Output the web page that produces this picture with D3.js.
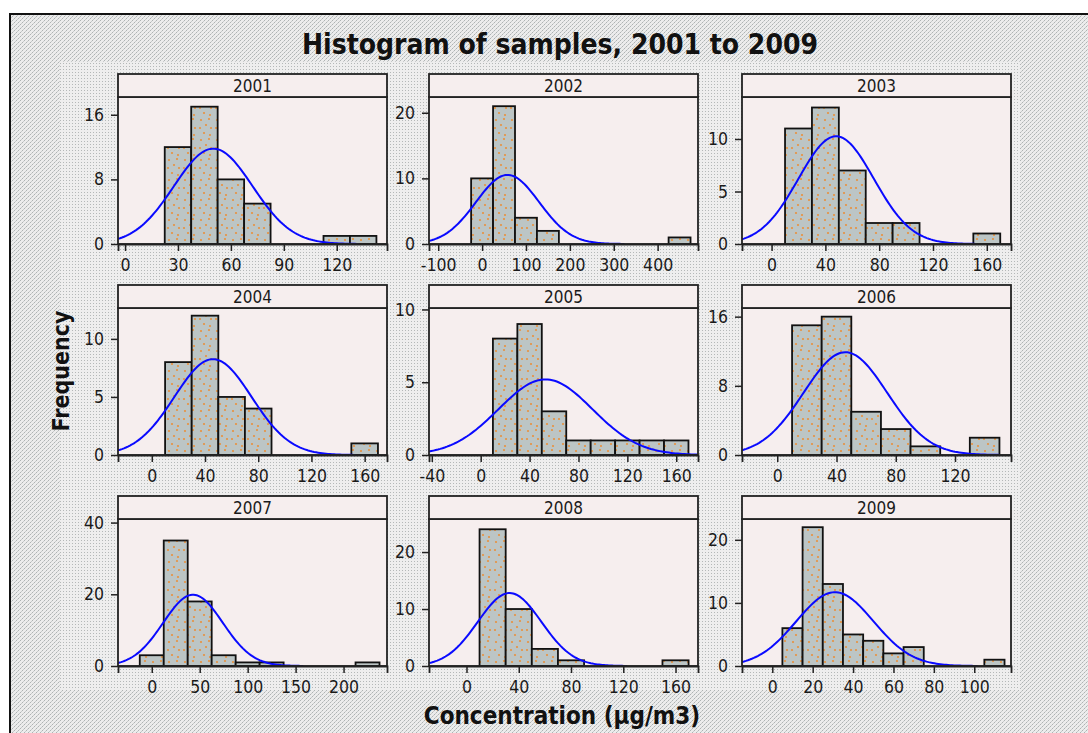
<!DOCTYPE html>
<html>
<head>
<meta charset="utf-8">
<script src="https://cdn.jsdelivr.net/npm/d3@7"></script>
<style>
  body { margin: 0; background: #fff; }
  svg { display: block; }
</style>
</head>
<body>
<div id="chart"></div>
<script>
// histogram data, one entry per year
var years = ["2001", "2002", "2003", "2004", "2005", "2006", "2007", "2008", "2009"];
var binFirst = [30, 0, 20, 20, 20, 20, 0, 20, 10];   // centre of first bin
var binWidth = [15, 50, 20, 20, 20, 20, 25, 20, 10];
var counts = [
  [12, 17, 8, 5, 0, 0, 1, 1],
  [10, 21, 4, 2, 0, 0, 0, 0, 0, 1],
  [11, 13, 7, 2, 2, 0, 0, 1],
  [8, 12, 5, 4, 0, 0, 0, 1],
  [8, 9, 3, 1, 1, 1, 1, 1],
  [15, 16, 5, 3, 1, 0, 2],
  [3, 35, 18, 3, 1, 1, 0, 0, 0, 1],
  [24, 10, 3, 1, 0, 0, 0, 1],
  [6, 22, 13, 5, 4, 2, 3, 0, 0, 0, 1]
];
// normal fit parameters
var fitMean = [50, 58, 48, 46, 53, 46, 43, 33, 31];
var fitSd = [22.3, 72, 28, 29, 38.4, 28.2, 31.1, 24.3, 19.1];

// axis settings
var xDomains = [[-4, 148.5], [-121, 492], [-22, 178], [-25.4, 176.8], [-42.3, 177.8],
                [-23.8, 157.8], [-35.2, 245.3], [-28.7, 177.2], [-15, 118.2]];
var xTicks = [
  [0, 30, 60, 90, 120],
  [-100, 0, 100, 200, 300, 400],
  [0, 40, 80, 120, 160],
  [0, 40, 80, 120, 160],
  [-40, 0, 40, 80, 120, 160],
  [0, 40, 80, 120],
  [0, 50, 100, 150, 200],
  [0, 40, 80, 120, 160],
  [0, 20, 40, 60, 80, 100]
];
var yMax = [18.2, 22.4, 14, 12.66, 10.1, 17, 41, 25.8, 23.3];
var yTicks = [[0, 8, 16], [0, 10, 20], [0, 5, 10], [0, 5, 10], [0, 5, 10],
              [0, 8, 16], [0, 20, 40], [0, 10, 20], [0, 10, 20]];

var W = 1088, H = 733;
var font = "'DejaVu Sans Condensed', 'DejaVu Sans', sans-serif";

var svg = d3.select("#chart").append("svg")
  .attr("width", W).attr("height", H);

var defs = svg.append("defs");

// dotted background texture
var bg = defs.append("pattern").attr("id", "bgdots")
  .attr("width", 4).attr("height", 4).attr("patternUnits", "userSpaceOnUse");
bg.append("rect").attr("width", 4).attr("height", 4).attr("fill", "#ececec");
bg.append("rect").attr("x", 0).attr("y", 0).attr("width", 1).attr("height", 1).attr("fill", "#aeb3b3");
bg.append("rect").attr("x", 2).attr("y", 2).attr("width", 1).attr("height", 1).attr("fill", "#aeb3b3");
bg.append("rect").attr("x", 3).attr("y", 1).attr("width", 1).attr("height", 1).attr("fill", "#c8cbcb");
bg.append("rect").attr("x", 1).attr("y", 3).attr("width", 1).attr("height", 1).attr("fill", "#c8cbcb");

var bg2 = defs.append("pattern").attr("id", "bgdots2")
  .attr("width", 3).attr("height", 3).attr("patternUnits", "userSpaceOnUse");
bg2.append("rect").attr("width", 3).attr("height", 3).attr("fill", "#eeeeee");
bg2.append("rect").attr("x", 0).attr("y", 0).attr("width", 1).attr("height", 1).attr("fill", "#b4b8b8");

// orange dots for the bars
var bd = defs.append("pattern").attr("id", "bardots")
  .attr("width", 16).attr("height", 20).attr("patternUnits", "userSpaceOnUse");
bd.append("rect").attr("width", 16).attr("height", 20).attr("fill", "#bcc5c5");
[[3, 3], [11, 2], [8, 8], [2, 11], [13, 11], [6, 16], [12, 18]].forEach(function(p) {
  bd.append("circle").attr("cx", p[0]).attr("cy", p[1]).attr("r", 1.1).attr("fill", "#e8913e");
});

svg.append("rect").attr("x", 10).attr("y", 14).attr("width", W - 10).attr("height", H - 14)
  .attr("fill", "url(#bgdots)");
svg.append("rect").attr("x", 60).attr("y", 62).attr("width", 960).attr("height", 628)
  .attr("fill", "url(#bgdots2)");
svg.append("path").attr("d", "M10," + H + "V14H" + W)
  .attr("fill", "none").attr("stroke", "#111").attr("stroke-width", 2);

// panel layout
var colX = [118, 429, 742], rowY = [74, 285, 496];
var pw = 269, stripH = 23, ph = 147;

years.forEach(function(yr, i) {
  var px = colX[i % 3], py = rowY[Math.floor(i / 3)];
  var g = svg.append("g").attr("transform", "translate(" + px + "," + (py + stripH) + ")");

  var x = d3.scaleLinear().domain(xDomains[i]).range([0, pw]);
  var y = d3.scaleLinear().domain([0, yMax[i]]).range([ph, 0]);

  g.append("rect").attr("width", pw).attr("height", ph).attr("fill", "#f6eeee");

  defs.append("clipPath").attr("id", "clip" + i)
    .append("rect").attr("width", pw).attr("height", ph);

  var bins = counts[i].map(function(c, k) {
    return { mid: binFirst[i] + k * binWidth[i], n: c };
  }).filter(function(d) { return d.n > 0; });

  g.selectAll("rect.bar").data(bins).enter().append("rect")
    .attr("class", "bar")
    .attr("x", function(d) { return x(d.mid - binWidth[i] / 2); })
    .attr("width", function(d) { return x(d.mid + binWidth[i] / 2) - x(d.mid - binWidth[i] / 2); })
    .attr("y", function(d) { return y(d.n); })
    .attr("height", function(d) { return ph - y(d.n); })
    .attr("fill", "url(#bardots)")
    .attr("stroke", "#111").attr("stroke-width", 1.8);

  // normal curve
  var total = d3.sum(counts[i]);
  var mu = fitMean[i], sd = fitSd[i];
  var lo = Math.max(xDomains[i][0], mu - 3.7 * sd), hi = Math.min(xDomains[i][1], mu + 3.7 * sd);
  var pts = d3.range(0, 121).map(function(k) {
    var xv = lo + (hi - lo) * k / 120;
    var z = (xv - mu) / sd;
    return [xv, total * binWidth[i] * Math.exp(-z * z / 2) / (sd * Math.sqrt(2 * Math.PI))];
  });
  g.append("path").datum(pts)
    .attr("clip-path", "url(#clip" + i + ")")
    .attr("fill", "none").attr("stroke", "#0a0aff").attr("stroke-width", 2)
    .attr("d", d3.line().x(function(d) { return x(d[0]); }).y(function(d) { return y(d[1]); }));

  // frame
  g.append("rect").attr("width", pw).attr("height", ph)
    .attr("fill", "none").attr("stroke", "#222").attr("stroke-width", 1.8);

  // axes
  var fmt = function(d) { return String(d); };
  var xa = g.append("g").attr("transform", "translate(0," + ph + ")")
    .call(d3.axisBottom(x).tickValues(xTicks[i]).tickSize(7).tickPadding(8).tickFormat(fmt));
  var ya = g.append("g")
    .call(d3.axisLeft(y).tickValues(yTicks[i]).tickSize(7).tickPadding(7).tickFormat(fmt));
  [xa, ya].forEach(function(a) {
    a.select(".domain").attr("stroke", "#222").attr("stroke-width", 1.8);
    a.selectAll(".tick line").attr("stroke", "#222").attr("stroke-width", 1.5);
    a.selectAll("text").attr("font-family", font).attr("font-size", 17.5).attr("fill", "#1a1a1a");
  });
  ya.select(".domain").remove();

  // strip
  var s = svg.append("g").attr("transform", "translate(" + px + "," + py + ")");
  s.append("rect").attr("width", pw).attr("height", stripH)
    .attr("fill", "#f6eeee").attr("stroke", "#222").attr("stroke-width", 1.8);
  s.append("text").attr("x", pw / 2).attr("y", stripH / 2 + 6)
    .attr("text-anchor", "middle").attr("font-family", font).attr("font-size", 17)
    .attr("fill", "#1a1a1a").text(yr);
});

// titles
svg.append("text").attr("x", 560).attr("y", 54).attr("text-anchor", "middle")
  .attr("font-family", font).attr("font-weight", "bold").attr("font-size", 28)
  .attr("fill", "#111").text("Histogram of samples, 2001 to 2009");
svg.append("text").attr("x", 562).attr("y", 724).attr("text-anchor", "middle")
  .attr("font-family", font).attr("font-weight", "bold").attr("font-size", 24)
  .attr("fill", "#111").text("Concentration (µg/m3)");
svg.append("text").attr("transform", "translate(69,371) rotate(-90)").attr("text-anchor", "middle")
  .attr("font-family", font).attr("font-weight", "bold").attr("font-size", 23)
  .attr("fill", "#111").text("Frequency");
</script>
</body>
</html>
